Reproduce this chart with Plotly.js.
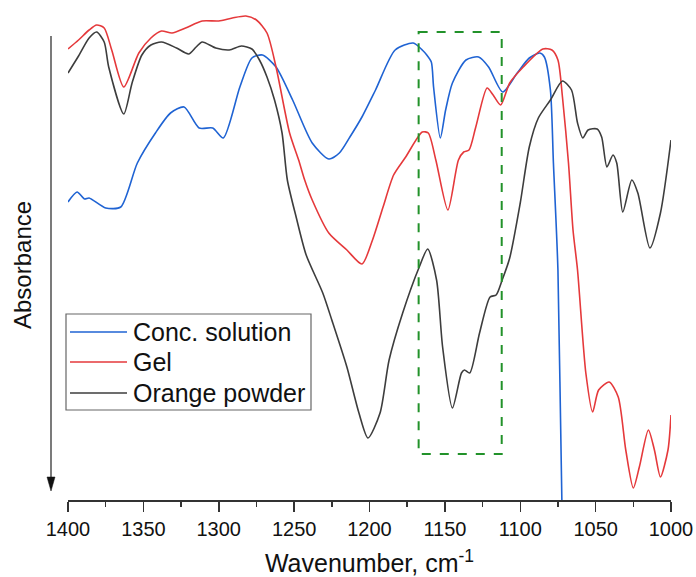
<!DOCTYPE html>
<html>
<head>
<meta charset="utf-8">
<script src="https://cdn.plot.ly/plotly-3.0.1.min.js"></script>
<style>html,body{margin:0;padding:0;background:#fff;}#chart{width:696px;height:577px;}</style>
</head>
<body>
<div id="chart"></div>
<script>
// Wavenumber (cm-1) and absorbance (arbitrary units, increasing downward)
const solutionWn = [1400,1394,1389,1386,1375,1365,1354,1342,1332,1323,1313,1304,1297,1286,1278,1271,1262,1251,1238,1227,1220,1213,1205,1196,1183,1171,1165,1162,1159,1157.5,1153,1149.5,1145,1136,1127.6,1121,1111.6,1102,1094,1087,1084,1080,1078,1075,1072.4,1071.5];
const solutionAbs = [202,192,199,198,208,207,163,133,113,107,128,128,138,87,58,55,67,100,143,159,153,137,117,90,50,43,50,55,62,87,138,110,83,60,57,67,92,73,58,53,57,90,163,270,500,530];

const gelWn = [1400,1393,1386,1381,1376,1371,1363,1353,1345,1338,1331,1322,1311,1300,1291,1282,1275,1268,1262,1253,1247,1243,1238,1227,1215,1205,1198,1191,1184,1176,1165,1161,1156,1148,1141,1137.5,1134,1129.5,1122,1118,1113,1107,1098,1085,1079,1075,1072,1068,1065,1062,1056.5,1052,1048,1041,1035,1030,1025,1021,1015,1011,1007,1002,1000];
const gelAbs = [49,40,30,25,28,50,87,53,38,31,33,28,21,21,18,16,20,33,67,133,160,180,200,233,250,264,240,207,175,157,132,133,160,210,160,152,150,127,88,95,105,83,67,49,50,60,97,163,230,270,373,412,390,382,397,450,488,467,430,450,477,450,415];

const powderWn = [1400,1393,1386,1381,1376,1373,1363,1357.5,1351,1345,1338,1328,1320,1315,1311,1302,1293,1285,1278,1273,1268,1263,1258,1254.5,1248.5,1242,1231,1225,1215,1207,1201,1193,1187,1178,1167,1161.4,1155.5,1151.5,1145,1139,1137,1133.5,1127,1120,1116,1112,1107,1100,1094,1088,1080,1072,1066,1062,1058.5,1055,1049,1046,1042.5,1038.5,1036,1032,1026,1022,1014,1007,1000];
const powderAbs = [73,56,38,32,42,67,114,83,55,45,42,48,54,47,42,48,50,46,49,60,77,100,133,180,218,255,293,320,367,413,438,413,360,313,267,249,280,347,408,373,370,373,333,297,295,280,258,203,147,118,100,81,90,123,138,130,129,137,167,155,163,212,180,193,248,213,140];

const seriesNames = ['Conc. solution','Gel','Orange powder'];
const seriesColors = ['#1f63d3','#e5393b','#3d3d3d'];
const tickValues = [1400,1350,1300,1250,1200,1150,1100,1050,1000];
const highlightWn = [1167.4, 1112.3];
const highlightAbs = [32, 454];

const lw = 1.6;
const series = [[solutionWn, solutionAbs],[gelWn, gelAbs],[powderWn, powderAbs]];
const traces = series.map((s, i) => ({
  x: s[0], y: s[1], name: seriesNames[i], mode: 'lines', showlegend: false,
  line: {color: seriesColors[i], width: lw, shape: 'spline', smoothing: 0.7}
}));

const W = 696, H = 577, mL = 68, mR = 25, mT = 10, mB = 77;
const pw = W - mL - mR;
const px = v => (v - mL) / pw;   // pixel x -> paper x
const axX = px(51);
const half = 4 / pw;

// manual legend (box, line samples, labels)
const legRows = [332, 362, 393];
const legShapes = [
  {type: 'rect', xref: 'paper', yref: 'y', x0: px(66), x1: px(311), y0: 314, y1: 410,
   line: {color: '#666', width: 1.2}, fillcolor: '#fff', layer: 'above'}
];
const legAnn = [];
legRows.forEach((yy, i) => {
  legShapes.push({type: 'line', xref: 'paper', yref: 'y', x0: px(70), x1: px(127), y0: yy, y1: yy,
    line: {color: seriesColors[i], width: 1.6}, layer: 'above'});
  legAnn.push({text: seriesNames[i], xref: 'paper', yref: 'y', x: px(131), y: yy, showarrow: false,
    xanchor: 'left', yanchor: 'middle', font: {size: 25, color: '#111'}});
});

const layout = {
  width: W, height: H,
  margin: {l: mL, r: mR, t: mT, b: mB, pad: 0},
  paper_bgcolor: '#fff', plot_bgcolor: '#fff',
  font: {family: 'Liberation Sans, Arial, sans-serif', color: '#111'},
  showlegend: false,
  xaxis: {
    range: [1400, 1000], tickvals: tickValues, ticktext: tickValues.map(String),
    showgrid: false, zeroline: false, showline: true, linecolor: '#333', linewidth: 1.5,
    ticks: 'outside', ticklen: 10, tickwidth: 1.5, tickcolor: '#333',
    minor: {dtick: 25, tick0: 1000, ticks: 'outside', ticklen: 5, tickwidth: 1.5, tickcolor: '#333', showgrid: false},
    tickfont: {size: 20, color: '#111'},
    title: {text: 'Wavenumber, cm<sup>-1</sup>', font: {size: 25, color: '#111'}, standoff: 16}
  },
  yaxis: {
    range: [500, 10], visible: false, showgrid: false, zeroline: false
  },
  shapes: [
    {type: 'rect', xref: 'x', yref: 'y', x0: highlightWn[0], x1: highlightWn[1], y0: highlightAbs[0], y1: highlightAbs[1],
     line: {color: '#22922a', width: 2, dash: 'dash'}, fillcolor: 'rgba(0,0,0,0)'},
    {type: 'line', xref: 'paper', yref: 'y', x0: axX, x1: axX, y0: 36, y1: 480, line: {color: '#333', width: 1.3}},
    {type: 'path', xref: 'paper', yref: 'y', path: `M ${axX},491 L ${axX - half},477 L ${axX + half},477 Z`, fillcolor: '#111', line: {color: '#111', width: 0.5}}
  ].concat(legShapes),
  annotations: [
    {text: 'Absorbance', xref: 'paper', yref: 'y', x: px(22), y: 265, showarrow: false, textangle: -90,
     font: {size: 24, color: '#111'}, xanchor: 'center', yanchor: 'middle'}
  ].concat(legAnn)
};

Plotly.newPlot('chart', traces, layout, {staticPlot: true, displayModeBar: false});
</script>
</body>
</html>
